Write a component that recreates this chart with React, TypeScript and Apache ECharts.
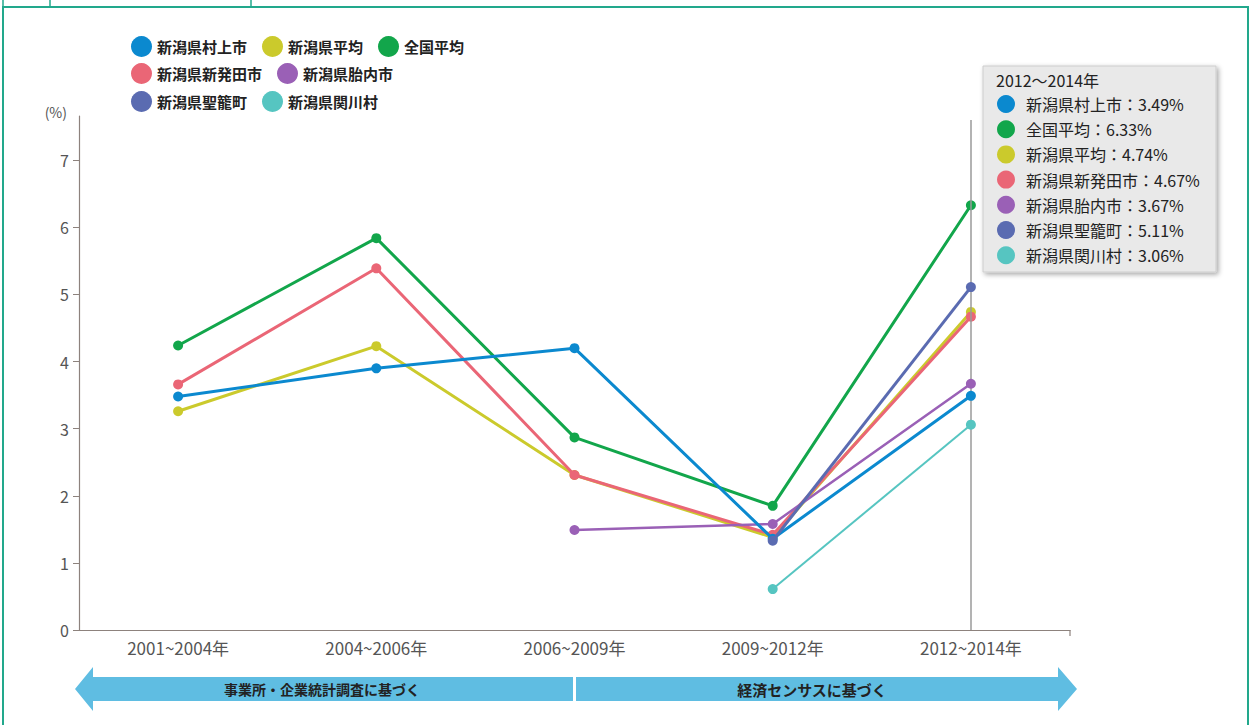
import React, { useEffect, useRef } from "react";
import * as echarts from "echarts";

const categories = ["2001~2004年", "2004~2006年", "2006~2009年", "2009~2012年", "2012~2014年"];
const murakami = [3.48, 3.9, 4.2, 1.36, 3.49];
const niigataAvg = [3.26, 4.23, 2.31, 1.38, 4.74];
const national = [4.24, 5.84, 2.87, 1.85, 6.33];
const shibata = [3.66, 5.39, 2.31, 1.42, 4.67];
const tainai = [null, null, 1.49, 1.58, 3.67];
const seiro = [null, null, null, 1.33, 5.11];
const sekikawa = [null, null, null, 0.61, 3.06];
const yTicks = [0, 1, 2, 3, 4, 5, 6, 7];
const tooltipTitle = "2012～2014年";
const leftArrowText = "事業所・企業統計調査に基づく";
const rightArrowText = "経済センサスに基づく";

const FONT = "'Noto Sans CJK JP', 'Noto Sans', sans-serif";

type S = { name: string; color: string; data: (number | null)[]; width: number };
const seriesDefs: Record<string, S> = {
  murakami: { name: "新潟県村上市", color: "#0b89cf", data: murakami, width: 3 },
  niigataAvg: { name: "新潟県平均", color: "#cbca2c", data: niigataAvg, width: 3 },
  national: { name: "全国平均", color: "#12a64b", data: national, width: 3 },
  shibata: { name: "新潟県新発田市", color: "#ea6676", data: shibata, width: 3 },
  tainai: { name: "新潟県胎内市", color: "#9a60b6", data: tainai, width: 2.5 },
  seiro: { name: "新潟県聖籠町", color: "#5a6bb1", data: seiro, width: 3 },
  sekikawa: { name: "新潟県関川村", color: "#56c5c1", data: sekikawa, width: 2 },
};
const drawOrder = ["niigataAvg", "shibata", "national", "sekikawa", "tainai", "murakami", "seiro"];
const legendRows = [
  ["murakami", "niigataAvg", "national"],
  ["shibata", "tainai"],
  ["seiro", "sekikawa"],
];
const tooltipOrder = ["murakami", "national", "niigataAvg", "shibata", "tainai", "seiro", "sekikawa"];
const lastIndex = categories.length - 1;

export default function App() {
  const ref = useRef<HTMLDivElement>(null);
  useEffect(() => {
    document.body.style.margin = "0";
    const chart = echarts.init(ref.current!, null, { renderer: "svg" });
    const teal = "#22a88c";
    const axisColor = "#8d827d";

    const legends = legendRows.map((row, i) => ({
      left: 131,
      top: [36, 63, 91][i],
      orient: "horizontal",
      padding: 0,
      icon: "circle",
      itemWidth: 21,
      itemHeight: 21,
      itemGap: 15,
      selectedMode: false,
      textStyle: { fontSize: 15, fontWeight: "bold", color: "#222", fontFamily: FONT },
      data: row.map((k) => seriesDefs[k].name),
    }));

    const tipRows: any[] = [];
    tooltipOrder.forEach((k, i) => {
      const s = seriesDefs[k];
      const y = 104 + i * 25.2;
      tipRows.push({
        type: "circle",
        shape: { cx: 1006, cy: y, r: 9 },
        style: { fill: s.color },
        z: 101,
      });
      tipRows.push({
        type: "text",
        x: 1026,
        y,
        style: {
          text: `${s.name}：${(s.data[lastIndex] as number).toFixed(2)}%`,
          fontSize: 16,
          fontFamily: FONT,
          fill: "#222",
          verticalAlign: "middle",
        },
        z: 101,
      });
    });

    const arrowColor = "#5fbde2";

    chart.setOption({
      animation: false,
      backgroundColor: "#ffffff",
      textStyle: { fontFamily: FONT },
      legend: legends,
      grid: { left: 79, right: 181, top: 116, bottom: 95 },
      xAxis: {
        type: "category",
        data: categories,
        boundaryGap: true,
        axisLine: { lineStyle: { color: axisColor, width: 1.2 } },
        axisTick: { alignWithLabel: true, length: 6, lineStyle: { color: axisColor } },
        axisLabel: { fontSize: 17, color: "#555", margin: 9, fontFamily: FONT },
      },
      yAxis: {
        type: "value",
        min: 0,
        max: 7.66,
        interval: 1,
        name: "(%)",
        nameLocation: "end",
        nameGap: 4,
        nameTextStyle: {
          fontSize: 14,
          color: "#555",
          align: "right",
          verticalAlign: "middle",
          padding: [0, 12, 0, 0],
        },
        axisLine: { show: true, lineStyle: { color: axisColor, width: 1.2 } },
        axisTick: { show: true, length: 6, customValues: yTicks, lineStyle: { color: axisColor } },
        axisLabel: { fontSize: 16, color: "#555", margin: 10, customValues: yTicks },
        splitLine: { show: false },
      },
      series: drawOrder.map((k, idx) => {
        const s = seriesDefs[k];
        const base: any = {
          type: "line",
          name: s.name,
          data: s.data,
          symbol: "circle",
          symbolSize: 10,
          connectNulls: false,
          lineStyle: { color: s.color, width: s.width },
          itemStyle: { color: s.color },
          z: 2 + idx,
        };
        if (idx === 0) {
          base.markLine = {
            silent: true,
            symbol: "none",
            label: { show: false },
            lineStyle: { color: "#9a9a9a", width: 1.5, type: "solid" },
            data: [[{ coord: [categories[lastIndex], 7.6] }, { coord: [categories[lastIndex], 0] }]],
          };
        }
        return base;
      }),
      graphic: [
        { type: "rect", shape: { x: 3, y: 7, width: 1245, height: 730 }, style: { fill: "none", stroke: teal, lineWidth: 2 }, silent: true },
        { type: "line", shape: { x1: 3, y1: 0, x2: 3, y2: 7 }, style: { stroke: teal, lineWidth: 1.5 } },
        { type: "line", shape: { x1: 50, y1: 0, x2: 50, y2: 7 }, style: { stroke: teal, lineWidth: 1.5 } },
        { type: "line", shape: { x1: 251, y1: 0, x2: 251, y2: 7 }, style: { stroke: teal, lineWidth: 1.5 } },
        { type: "line", shape: { x1: 1070, y1: 630, x2: 1070, y2: 636 }, style: { stroke: axisColor, lineWidth: 1.2 } },
        {
          type: "rect",
          shape: { x: 983, y: 66, width: 233, height: 206 },
          style: {
            fill: "#e9e9e9",
            stroke: "#cdcdcd",
            lineWidth: 1,
            shadowBlur: 5,
            shadowOffsetX: 2,
            shadowOffsetY: 2,
            shadowColor: "rgba(0,0,0,0.35)",
          },
          z: 100,
        },
        {
          type: "text",
          x: 996,
          y: 80,
          style: { text: tooltipTitle, fontSize: 16, fontFamily: FONT, fill: "#222", verticalAlign: "middle" },
          z: 101,
        },
        ...tipRows,
        {
          type: "polygon",
          shape: { points: [[75, 689], [93, 667], [93, 677], [573, 677], [573, 701], [93, 701], [93, 711]] },
          style: { fill: arrowColor },
        },
        {
          type: "polygon",
          shape: { points: [[576, 677], [1058, 677], [1058, 667], [1077, 689], [1058, 711], [1058, 701], [576, 701]] },
          style: { fill: arrowColor },
        },
        {
          type: "text",
          x: 322,
          y: 689,
          style: { text: leftArrowText, fontSize: 14, fontWeight: "bold", fontFamily: FONT, fill: "#222", align: "center", verticalAlign: "middle" },
        },
        {
          type: "text",
          x: 812,
          y: 689,
          style: { text: rightArrowText, fontSize: 15, fontWeight: "bold", fontFamily: FONT, fill: "#222", align: "center", verticalAlign: "middle" },
        },
      ],
    });
    return () => chart.dispose();
  }, []);
  return <div ref={ref} style={{ position: "absolute", left: 0, top: 0, width: 1251, height: 725 }} />;
}
